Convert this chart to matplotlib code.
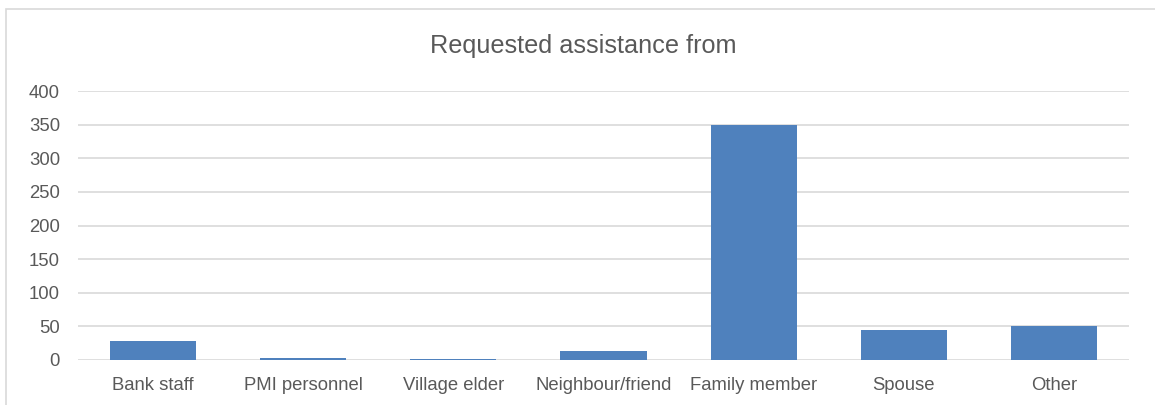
#! /usr/bin/env python

import matplotlib
matplotlib.use('Agg')
import matplotlib.pyplot as plt
from matplotlib.patches import Rectangle

categories = ['Bank staff', 'PMI personnel', 'Village elder', 'Neighbour/friend',
              'Family member', 'Spouse', 'Other']
counts = [28, 3, 1, 14, 350, 45, 51]
yticks = [0, 50, 100, 150, 200, 250, 300, 350, 400]

plt.rcParams['font.family'] = ['Liberation Sans', 'DejaVu Sans']

fig = plt.figure(figsize=(11.55, 4.05), dpi=100)
# chart frame (only left/top edges show in the original crop)
fig.patches.append(Rectangle((6/1155., -0.1), 1.2, (405-9)/405. + 0.1,
                             transform=fig.transFigure, fill=False,
                             edgecolor='#d9d9d9', linewidth=1.2))

ax = fig.add_axes([78/1155., 45/405., 1051/1155., 269/405.])
ax.bar(range(len(categories)), counts, width=0.573, color='#4f81bd', zorder=3)

ax.set_xlim(-0.5, len(categories) - 0.5)
ax.set_ylim(0, 400)
ax.set_yticks(yticks)
ax.set_xticks(range(len(categories)))
ax.set_xticklabels(categories)
ax.yaxis.grid(True, color='#d9d9d9', linewidth=1.2, zorder=0)
for s in ax.spines.values():
    s.set_visible(False)
ax.tick_params(axis='both', length=0, labelsize=13.3, labelcolor='#595959')
ax.tick_params(axis='y', pad=13)
ax.tick_params(axis='x', pad=12)

fig.text(583/1155., (405-46)/405., 'Requested assistance from', ha='center', va='center',
         fontsize=18.2, color='#595959')

plt.savefig('out.png', dpi=100)
